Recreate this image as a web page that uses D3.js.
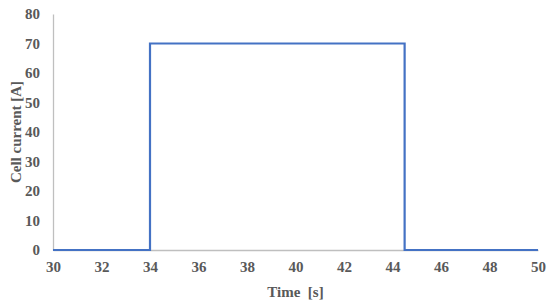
<!DOCTYPE html>
<html>
<head>
<meta charset="utf-8">
<script src="https://cdn.jsdelivr.net/npm/d3@7"></script>
<style>
  body { margin: 0; background: #fff; }
  svg text { font-family: "Liberation Serif", "Times New Roman", serif; font-weight: bold; fill: #595959; }
</style>
</head>
<body>
<svg></svg>
<script>
  // step current profile
  let timeValues = [30, 34, 34, 44.5, 44.5, 50]
  let currentValues = [0, 0, 70, 70, 0, 0]
  let xTicks = [30, 32, 34, 36, 38, 40, 42, 44, 46, 48, 50]
  let yTicks = [0, 10, 20, 30, 40, 50, 60, 70, 80]

  let width = 550
  let height = 305
  let margin = { left: 53, right: 12, top: 14, bottom: 55 }

  let svg = d3.select('svg')
      .attr('width', width)
      .attr('height', height)

  let xScale = d3.scaleLinear()
                  .domain([30, 50])
                  .range([margin.left, width - margin.right])

  let yScale = d3.scaleLinear()
                  .domain([0, 80])
                  .range([height - margin.bottom, margin.top])

  let xAxis = svg.append('g')
      .attr('transform', `translate(0, ${yScale(0)})`)
      .call(d3.axisBottom(xScale).tickValues(xTicks).tickSize(0).tickPadding(11))
      .attr('font-size', 15)
      .attr('font-family', null)
  xAxis.select('.domain').attr('stroke', '#bfbfbf').attr('stroke-width', 1.3)

  let yAxis = svg.append('g')
      .attr('transform', `translate(${margin.left}, 0)`)
      .call(d3.axisLeft(yScale).tickValues(yTicks).tickSize(0).tickPadding(13))
      .attr('font-size', 15)
      .attr('font-family', null)
  yAxis.select('.domain').attr('stroke', '#bfbfbf').attr('stroke-width', 1.3)

  let points = timeValues.map((t, i) => ({ t: t, c: currentValues[i] }))

  let line = d3.line()
                .x(d => xScale(d.t))
                .y(d => yScale(d.c))

  svg.append('path')
      .datum(points)
      .attr('fill', 'none')
      .attr('stroke', '#4472c4')
      .attr('stroke-width', 2.2)
      .attr('d', line)

  svg.append('text')
      .attr('x', (margin.left + width - margin.right) / 2)
      .attr('y', 297)
      .attr('text-anchor', 'middle')
      .attr('font-size', 15)
      .style('white-space', 'pre')
      .text('Time  [s]')

  svg.append('text')
      .attr('transform', `translate(21, ${(margin.top + height - margin.bottom) / 2}) rotate(-90)`)
      .attr('text-anchor', 'middle')
      .attr('font-size', 15)
      .text('Cell current [A]')
</script>
</body>
</html>
